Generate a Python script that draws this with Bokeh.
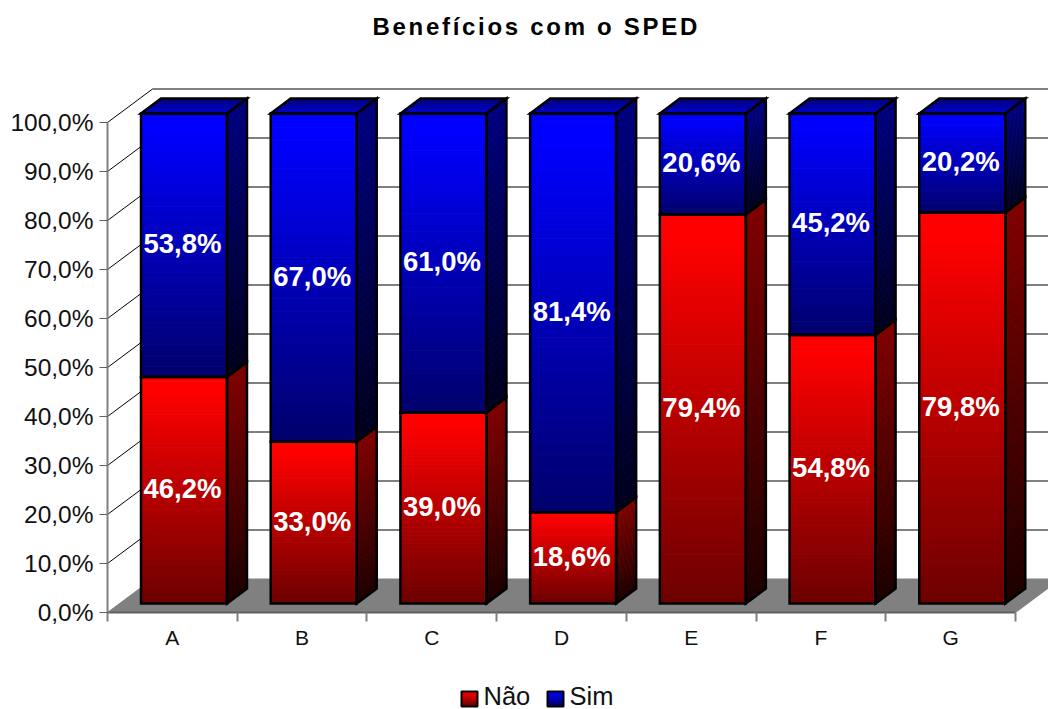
from bokeh.plotting import figure
from bokeh.layouts import column
from bokeh.models import LinearAxis, FixedTicker, Range1d
from bokeh.core.properties import value
from bokeh.embed import file_html
from bokeh.resources import INLINE

title_text = "Benefícios com o SPED"
categories = ["A", "B", "C", "D", "E", "F", "G"]
nao = [46.2, 33.0, 39.0, 18.6, 79.4, 54.8, 79.8]
sim = [53.8, 67.0, 61.0, 81.4, 20.6, 45.2, 20.2]
y_ticks = [0, 10, 20, 30, 40, 50, 60, 70, 80, 90, 100]
series_names = ["Não", "Sim"]

FONT = "Liberation Sans"
PX_X = 129.714   # pixels per category
PX_Y = 4.9       # pixels per percent
X0, Y0 = 107, 612  # picture position of the axis origin
TITLE_H = 48
W, H = 1048, 709 - TITLE_H


def dx(px):
    return px / PX_X


def dy(px):
    return px / PX_Y


def sx(page_x):
    return (page_x - X0) / PX_X


def sy(page_y):
    return (Y0 - page_y) / PX_Y


# ---------- title, in its own small figure because of the letter spacing
tf = figure(width=W, height=TITLE_H, output_backend="svg", toolbar_location=None,
            x_range=Range1d(0, W), y_range=Range1d(TITLE_H, 0),
            x_axis_type=None, y_axis_type=None, min_border=0,
            outline_line_color=None, styles={"letter-spacing": "2.7px"})
tf.grid.visible = False
tf.text(x=[372], y=[25.5], text=[title_text], text_font=value(FONT), text_font_style="bold",
        text_font_size=value("24px"), text_color="black", text_align="left",
        text_baseline="alphabetic")

# ---------- main plot: the frame fills the figure, axes sit at fixed locations
p = figure(width=W, height=H, output_backend="svg", toolbar_location=None,
           x_range=Range1d(sx(0), sx(1048)), y_range=Range1d(sy(709), sy(TITLE_H)),
           x_axis_type=None, y_axis_type=None, min_border=0,
           outline_line_color=None)
p.grid.visible = False

WALL_X, WALL_Y = dx(45), dy(33.5)
n = len(categories)

# floor
p.patch([0, n, n + WALL_X, WALL_X], [0, 0, WALL_Y, WALL_Y], fill_color="#808080", line_color="#808080", line_width=1)
# walls' grid
gv = [v for v in y_ticks if v > 0]
p.segment(x0=[0] * len(gv), y0=gv, x1=[WALL_X] * len(gv), y1=[v + WALL_Y for v in gv], line_color="black", line_width=1)
p.segment(x0=[WALL_X] * len(gv), y0=[v + WALL_Y for v in gv], x1=[n + WALL_X] * len(gv),
          y1=[v + WALL_Y for v in gv], line_color="black", line_width=1)

# bars
BAR_L, BAR_W = dx(33.5), dx(86)
FRONT_X, FRONT_Y = 0, dy(9)
SIDE_X, SIDE_Y = dx(20), dy(15)
STRIPS = 48


def col(channel_rgb, level):
    level = int(round(level))
    return "#%02x%02x%02x" % (level * channel_rgb[0], level * channel_rgb[1], level * channel_rgb[2])


def shade(t, top, bottom, plateau=0.06):
    if t < plateau:
        return top
    return top + (bottom - top) * (t - plateau) / (1 - plateau)


xs, ys, fc = [], [], []
oxs, oys = [], []
tx, ty, tt = [], [], []

for i in range(n):
    left = i + BAR_L + FRONT_X
    right = left + BAR_W
    base = 0
    for vals, rgb in ((nao, (1, 0, 0)), (sim, (0, 0, 1))):
        v = vals[i]
        lo = FRONT_Y + base
        hi = lo + v
        for s in range(STRIPS):
            t0, t1 = s / STRIPS, (s + 1) / STRIPS
            a, b = hi - v * t0, hi - v * t1
            tm = (t0 + t1) / 2
            xs.append([left, right, right, left])
            ys.append([a, a, b, b])
            fc.append(col(rgb, shade(tm, 255, 108)))
            xs.append([right, right + SIDE_X, right + SIDE_X, right])
            ys.append([a, a + SIDE_Y, b + SIDE_Y, b])
            fc.append(col(rgb, shade(tm, 128, 30, 0.0)))
        oxs.append([left, right, right, left])
        oys.append([hi, hi, lo, lo])
        oxs.append([right, right + SIDE_X, right + SIDE_X, right])
        oys.append([hi, hi + SIDE_Y, lo + SIDE_Y, lo])
        tx.append(left + BAR_W / 2 - dx(1.5))
        ty.append((lo + hi) / 2 + dy(1.5))
        tt.append(("%.1f%%" % v).replace(".", ","))
        base += v
    # top face
    top_y = FRONT_Y + base
    for s in range(12):
        t0, t1 = s / 12, (s + 1) / 12
        xs.append([left + SIDE_X * t0, right + SIDE_X * t0, right + SIDE_X * t1, left + SIDE_X * t1])
        ys.append([top_y + SIDE_Y * t0, top_y + SIDE_Y * t0, top_y + SIDE_Y * t1, top_y + SIDE_Y * t1])
        fc.append(col((0, 0, 1), 215 - 95 * (t0 + t1) / 2))
    oxs.append([left, right, right + SIDE_X, left + SIDE_X])
    oys.append([top_y, top_y, top_y + SIDE_Y, top_y + SIDE_Y])

p.patches(xs, ys, fill_color=fc, line_color=fc, line_width=1)
p.patches(oxs, oys, fill_color=None, line_color="black", line_width=2.5, line_join="miter")
p.text(x=tx, y=ty, text=tt, text_font=value(FONT), text_font_style="bold", text_font_size=value("27.5px"),
       text_color="white", text_align="center", text_baseline="middle")

# axes
yax = LinearAxis(fixed_location=0, bounds=(0, 100),
                 ticker=FixedTicker(ticks=y_ticks),
                 major_label_overrides={v: ("%.1f%%" % v).replace(".", ",") for v in y_ticks},
                 major_label_text_font=FONT, major_label_text_font_size="24.5px", major_label_text_color="#111111",
                 major_label_standoff=6, major_tick_in=0, major_tick_out=8, minor_tick_out=0, minor_tick_in=0,
                 major_tick_line_color="#606060", major_tick_line_width=1,
                 axis_line_color="#808080", axis_line_width=2)
p.add_layout(yax, "left")

centers = [i + 0.5 for i in range(n)]
xax = LinearAxis(fixed_location=0, bounds=(0, n),
                 ticker=FixedTicker(ticks=centers, minor_ticks=list(range(n + 1))),
                 major_label_overrides={c: l for c, l in zip(centers, categories)},
                 major_label_text_font=FONT, major_label_text_font_size="21px", major_label_text_color="#111111",
                 major_label_standoff=4, major_tick_in=0, major_tick_out=9,
                 major_tick_line_color=None,
                 minor_tick_in=0, minor_tick_out=9, minor_tick_line_color="#808080", minor_tick_line_width=2,
                 axis_line_color="#606060", axis_line_width=2)
p.add_layout(xax, "below")

# legend
lx, ly, lc = [], [], []
ox2, oy2 = [], []
for (page_l, rgb) in ((461, (1, 0, 0)), (547, (0, 0, 1))):
    top_p, bot_p, w_p = 691, 706, 16
    for s in range(12):
        a = sy(top_p + (bot_p - top_p) * s / 12)
        b = sy(top_p + (bot_p - top_p) * (s + 1) / 12)
        lx.append([sx(page_l), sx(page_l + w_p), sx(page_l + w_p), sx(page_l)])
        ly.append([a, a, b, b])
        lc.append(col(rgb, shade((s + .5) / 12, 255, 100)))
    ox2.append([sx(page_l), sx(page_l + w_p), sx(page_l + w_p), sx(page_l)])
    oy2.append([sy(top_p), sy(top_p), sy(bot_p), sy(bot_p)])
p.patches(lx, ly, fill_color=lc, line_color=lc, line_width=1)
p.patches(ox2, oy2, fill_color=None, line_color="black", line_width=2)
p.text(x=[sx(483), sx(569)], y=[sy(695), sy(695)], text=series_names, text_font=value(FONT),
       text_font_size=value("25.5px"), text_color="#111111", text_align="left", text_baseline="alphabetic")

layout = column(tf, p, spacing=0)
open("out.html", "w").write(file_html(layout, INLINE))
